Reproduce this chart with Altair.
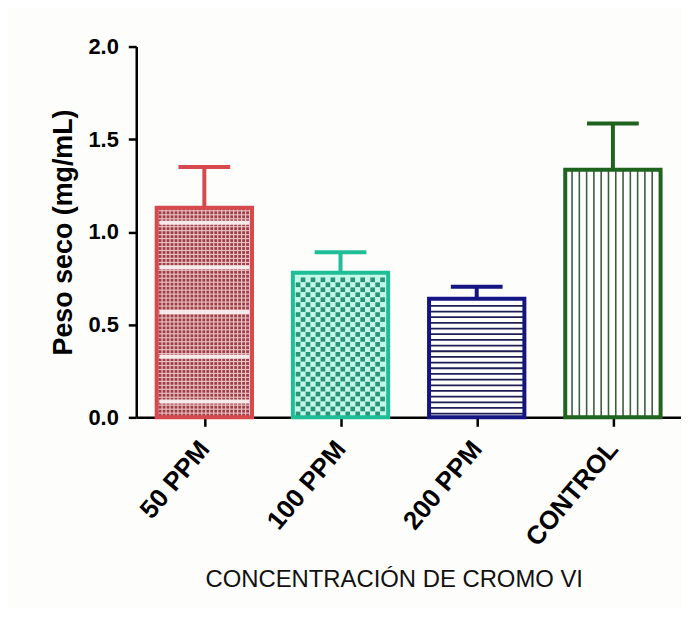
import altair as alt
import pandas as pd

categories = ["50 PPM", "100 PPM", "200 PPM", "CONTROL"]
means = [1.13, 0.78, 0.64, 1.335]
errors = [0.22, 0.11, 0.065, 0.25]
stroke_colors = ["#d6494e", "#20be96", "#141482", "#1e641e"]
fill_colors = ["#ebc0c3", "#c2f7ea", "#ffffff", "#ffffff"]

df = pd.DataFrame({
    "cat": categories,
    "idx": list(range(len(categories))),
    "mean": means,
    "err": errors,
    "stroke": stroke_colors,
    "fill": fill_colors,
})

HALF = 0.35
CAP = 0.19
FONT = "Liberation Sans"

label_expr = "[" + ",".join(f"'{c}'" for c in categories) + "][datum.value]"

x_axis = alt.Axis(
    values=list(range(len(categories))), labelExpr=label_expr,
    title="CONCENTRACIÓN DE CROMO VI", grid=False,
    labelAngle=-50, labelAlign="right", labelBaseline="middle",
    labelFontSize=26, labelFontWeight="bold", labelPadding=18, labelFont=FONT,
    labelColor="#000", tickSize=9, tickWidth=2.5, tickColor="#000",
    domainColor="#000", domainWidth=2.5,
    titleFontSize=24, titleFontWeight="normal", titleFont=FONT, titleColor="#111",
    titleX=259, titleY=170, titleBaseline="alphabetic", titleAlign="center",
)
y_axis = alt.Axis(
    values=[0, 0.5, 1.0, 1.5, 2.0], format=".1f", title="Peso seco (mg/mL)",
    grid=False, labelFontSize=22, labelFontWeight="bold", labelFont=FONT,
    labelColor="#000", labelPadding=10, tickSize=8, tickWidth=2.5, tickColor="#000",
    domainColor="#000", domainWidth=2.5,
    titleFontSize=27, titleFontWeight="bold", titleFont=FONT, titleColor="#000",
    titlePadding=11,
)
x_scale = alt.Scale(domain=[-0.5, len(categories) - 0.5], nice=False, zero=False)
y_scale = alt.Scale(domain=[0, 2], nice=False)


def X(field):
    return alt.X(f"{field}:Q", scale=x_scale, axis=x_axis)


def Y(field):
    return alt.Y(f"{field}:Q", scale=y_scale, axis=y_axis)


base = alt.Chart(df).transform_calculate(
    xl=f"datum.idx - {HALF}", xr=f"datum.idx + {HALF}",
    cl=f"datum.idx - {CAP}", cr=f"datum.idx + {CAP}",
    upper="datum.mean + datum.err", zero="0",
)

fill_bars = base.mark_bar().encode(
    x=X("xl"), x2="xr", y=Y("zero"), y2="mean",
    fill=alt.Fill("fill:N", scale=None),
)

# 50 PPM: fine dot texture with light bands
red_dots = base.transform_filter("datum.idx == 0").transform_calculate(
    cx="sequence(-0.325, 0.33, 0.0292)",
    ry="sequence(0.012, datum.mean - 0.004, 0.0214)",
).transform_flatten(["cx"]).transform_flatten(["ry"]).transform_calculate(
    px="datum.idx + datum.cx"
).mark_square(size=8, color="#9c3f46", opacity=1).encode(x=X("px"), y=Y("ry"))

red_bands = base.transform_filter("datum.idx == 0").transform_calculate(
    by="sequence(0.086, datum.mean - 0.02, 0.241)",
).transform_flatten(["by"]).transform_calculate(
    bl="datum.idx - 0.33", br="datum.idx + 0.33"
).mark_rule(strokeWidth=4, color="#f6eaea").encode(x=X("bl"), x2="br", y=Y("by"))

# 100 PPM: checkerboard
green_checks = base.transform_filter("datum.idx == 1").transform_calculate(
    c="sequence(0, 18)",
    r="sequence(0, floor((datum.mean - 0.01) / 0.0268))",
).transform_flatten(["c"]).transform_flatten(["r"]).transform_filter(
    "(datum.c + datum.r) % 2 == 0"
).transform_calculate(
    px="datum.idx - 0.33 + (datum.c + 0.5) * 0.0365",
    py="0.005 + (datum.r + 0.5) * 0.0268",
).mark_square(size=22, color="#2a9478", opacity=1).encode(x=X("px"), y=Y("py"))

# 200 PPM: horizontal lines
blue_lines = base.transform_filter("datum.idx == 2").transform_calculate(
    ly="sequence(0.02, datum.mean - 0.01, 0.0306)",
).transform_flatten(["ly"]).mark_rule(strokeWidth=1.8, color="#1e1e55").encode(
    x=X("xl"), x2="xr", y=Y("ly")
)

# CONTROL: vertical lines
ctrl_lines = base.transform_filter("datum.idx == 3").transform_calculate(
    off="sequence(-0.3, 0.31, 0.0535)",
).transform_flatten(["off"]).transform_calculate(
    lx="datum.idx + datum.off"
).mark_rule(strokeWidth=1.6, color="#3b5e3b").encode(
    x=X("lx"), y=Y("zero"), y2="mean"
)

err_rules = base.mark_rule(strokeWidth=4).encode(
    x=X("idx"), y=Y("mean"), y2="upper",
    stroke=alt.Stroke("stroke:N", scale=None),
)
err_caps = base.mark_rule(strokeWidth=4).encode(
    x=X("cl"), x2="cr", y=Y("upper"),
    stroke=alt.Stroke("stroke:N", scale=None),
)

outline = base.mark_bar(fillOpacity=0, strokeWidth=4, strokeJoin="miter").encode(
    x=X("xl"), x2="xr", y=Y("zero"), y2="mean",
    stroke=alt.Stroke("stroke:N", scale=None),
)

chart = alt.layer(
    fill_bars, red_dots, red_bands, green_checks, blue_lines, ctrl_lines,
    err_rules, err_caps, outline,
).properties(
    width=548, height=373,
    autosize=alt.AutoSizeParams(type="none"),
    padding={"left": 129, "top": 37, "right": 0, "bottom": 190},
    background="#fdfdfb",
).configure_view(stroke=None)

chart.save("out.html", embed_options={"renderer": "svg", "actions": False})
